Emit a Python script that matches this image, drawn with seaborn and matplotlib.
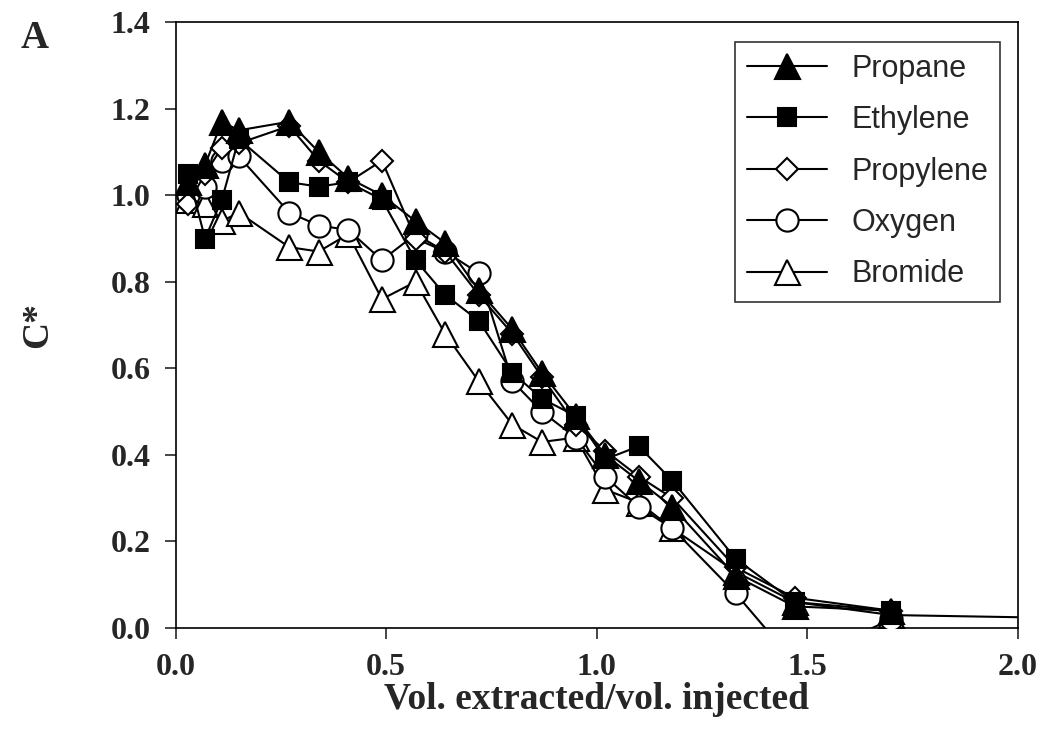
import pandas as pd
import matplotlib
matplotlib.use("Agg")
import matplotlib.pyplot as plt
import seaborn as sns

x = [0.03, 0.07, 0.11, 0.15, 0.27, 0.34, 0.41, 0.49, 0.57, 0.64, 0.72, 0.80,
     0.87, 0.95, 1.02, 1.10, 1.18, 1.33, 1.47, 1.70]
propane = [1.03, 1.07, 1.17, 1.15, 1.17, 1.10, 1.04, 1.00, 0.94, 0.89, 0.78, 0.69,
           0.59, 0.49, 0.40, 0.34, 0.28, 0.12, 0.05, 0.04]
ethylene = [1.05, 0.90, 0.99, 1.13, 1.03, 1.02, 1.03, 0.99, 0.85, 0.77, 0.71, 0.59,
            0.53, 0.49, 0.39, 0.42, 0.34, 0.16, 0.06, 0.04]
propylene = [0.98, 1.05, 1.11, 1.12, 1.16, 1.08, 1.03, 1.08, 0.90, 0.87, 0.77, 0.68,
             0.58, 0.47, 0.41, 0.35, 0.30, 0.14, 0.07, 0.04]
oxygen = [1.00, 1.02, 1.08, 1.09, 0.96, 0.93, 0.92, 0.85, 0.91, 0.87, 0.82, 0.57,
          0.50, 0.44, 0.35, 0.28, 0.23, 0.08, -0.08, 0.02]
bromide_x = x[:17] + [1.33, 1.47, 1.70, 2.30]
bromide = [0.99, 0.98, 0.94, 0.96, 0.88, 0.87, 0.91, 0.76, 0.80, 0.68, 0.57, 0.47,
           0.43, 0.44, 0.32, 0.29, 0.23, 0.13, 0.06, 0.03, 0.02]

rows = []
for name, xs, ys in [("Propane", x, propane), ("Ethylene", x, ethylene),
                     ("Propylene", x, propylene), ("Oxygen", x, oxygen),
                     ("Bromide", bromide_x, bromide)]:
    for a, b in zip(xs, ys):
        rows.append({"series": name, "x": a, "y": b})
df = pd.DataFrame(rows)

sns.set_style("white")
plt.rcParams['font.family'] = ['Liberation Serif', 'DejaVu Serif']

fig = plt.figure(figsize=(10.45, 7.38), dpi=100)
ax = fig.add_axes([0.168, 0.149, 0.806, 0.821])

styles = {
    "Propane": dict(marker="^", mfc="black", ms=18, z=6),
    "Ethylene": dict(marker="s", mfc="black", ms=13, z=5),
    "Propylene": dict(marker="D", mfc="white", ms=11, z=4),
    "Oxygen": dict(marker="o", mfc="white", ms=16, z=3),
    "Bromide": dict(marker="^", mfc="white", ms=18, z=2),
}
for name, st in styles.items():
    d = df[df.series == name]
    sns.lineplot(data=d, x="x", y="y", ax=ax, color="black", lw=1.5,
                 marker=st["marker"], markersize=st["ms"], markerfacecolor=st["mfc"],
                 markeredgecolor="black", markeredgewidth=1.5, label=name,
                 estimator=None, sort=False, zorder=st["z"])

ax.set_xlim(0, 2.0)
ax.set_ylim(0, 1.4)
ax.set_xticks([0, 0.5, 1.0, 1.5, 2.0])
ax.set_xticklabels(["0.0", "0.5", "1.0", "1.5", "2.0"])
ax.set_yticks([0, 0.2, 0.4, 0.6, 0.8, 1.0, 1.2, 1.4])
ax.set_yticklabels([f"{v:.1f}" for v in ax.get_yticks()])
ax.tick_params(direction="out", length=8, width=1.2, labelsize=23, bottom=True, left=True, pad=10)
for lab in ax.get_xticklabels() + ax.get_yticklabels():
    lab.set_fontweight("bold")
for s in ax.spines.values():
    s.set_color("black")
    s.set_linewidth(1.2)

ax.set_xlabel("Vol. extracted/vol. injected", fontsize=27, fontweight="bold", labelpad=0)
ax.set_ylabel("C*", fontsize=27, fontweight="bold", labelpad=40)
fig.text(0.02, 0.935, "A", fontsize=28, fontweight="bold")

leg = ax.legend(loc="upper right", bbox_to_anchor=(0.979, 0.968), borderaxespad=0,
                prop={"family": "Liberation Sans", "size": 22},
                frameon=True, fancybox=False, edgecolor="black", handlelength=2.6,
                borderpad=0.4, labelspacing=0.7)
leg.get_frame().set_linewidth(1.2)
leg.set_zorder(10)

fig.savefig("out.png", dpi=100)
